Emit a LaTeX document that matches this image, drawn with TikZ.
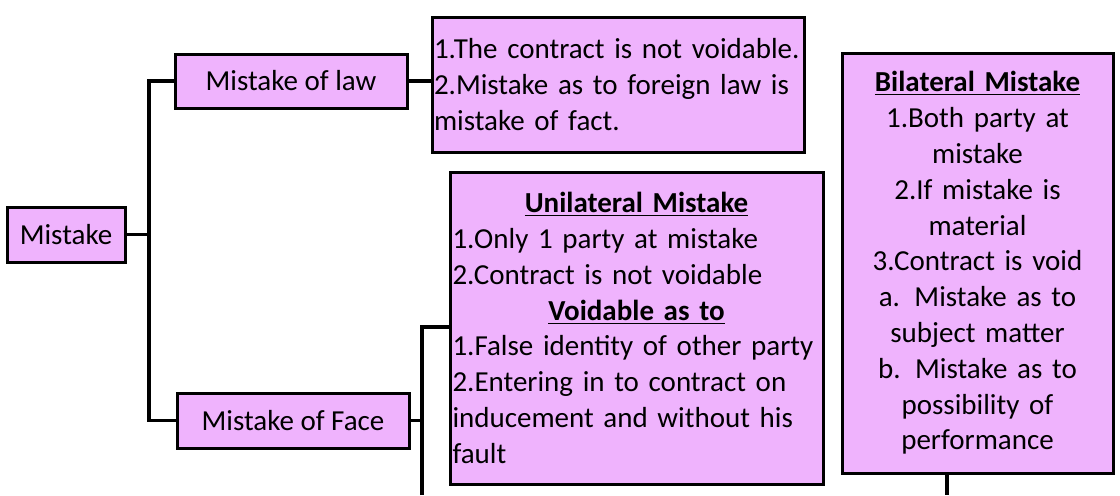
\documentclass[tikz,border=0pt]{standalone}
\usepackage{fontspec}
\setmainfont{Carlito}
\definecolor{boxfill}{HTML}{EFB3FD}
\hyphenpenalty=10000
\begin{document}
\begin{tikzpicture}[x=0.5pt,y=-0.5pt,
  box/.style={draw=black, line width=1.5pt, fill=boxfill, inner sep=1.5pt,
    font=\fontsize{14.5}{17.9}\selectfont},
  conn/.style={draw=black, line width=1.8pt}]
\useasboundingbox (0,0) rectangle (1120,495);
\node[box, minimum width=59pt, minimum height=27.5pt] (mistake) at (66,234.5) {Mistake};
\node[box, minimum width=116pt, minimum height=27pt] (law) at (291,81) {Mistake of law};
\node[box, inner sep=1pt, minimum width=186pt, minimum height=67.5pt, text width=184pt, align=left] (notes) at (618,84.5)
  {1.The contract is not voidable.\\2.Mistake as to foreign law is\\mistake of fact.};
\node[box, minimum width=116pt, minimum height=27.5pt] (face) at (293,420.5) {Mistake of Face};
\node[box, inner sep=1pt, minimum width=186.5pt, minimum height=156pt, text width=184pt, align=left] (uni) at (636.5,328)
  {\centerline{\textbf{\underline{Unilateral Mistake}}}
   1.Only 1 party at mistake\\2.Contract is not voidable\\
   \centerline{\textbf{\underline{Voidable as to}}}
   1.False identity of other party\\2.Entering in to contract on\\inducement and without his\\fault};
\node[box, minimum width=135.5pt, minimum height=210pt, text width=131pt, align=center] (bi) at (977.5,263)
  {\textbf{\underline{Bilateral Mistake}}\\1.Both party at\\mistake\\2.If mistake is\\material\\3.Contract is void\\a. Mistake as to\\subject matter\\b. Mistake as to\\possibility of\\performance};
\coordinate (tr) at (149,0);
\coordinate (v) at (422,327);
\coordinate (vb) at (422,495);
\coordinate (bb) at (947,495);
\draw[conn] (law.west) -- (law.west -| tr) -- (face.west -| tr) -- (face.west);
\draw[conn] (mistake.east) -- (mistake.east -| tr);
\draw[conn] (law.east) -- (law.east -| notes.west);
\draw[conn] (face.east) -- (face.east -| v);
\draw[conn] (vb) -- (v) -- (v -| uni.west);
\draw[conn] (bb |- bi.south) -- (bb);
\end{tikzpicture}
\end{document}
